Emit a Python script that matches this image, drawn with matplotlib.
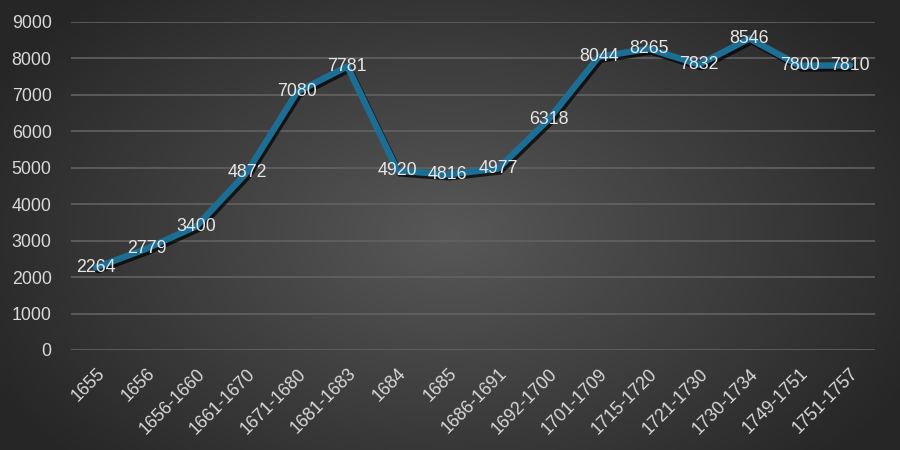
import numpy as np
import matplotlib
matplotlib.use("Agg")
import matplotlib.pyplot as plt
import matplotlib.patheffects as pe

categories = ["1655", "1656", "1656-1660", "1661-1670", "1671-1680", "1681-1683",
              "1684", "1685", "1686-1691", "1692-1700", "1701-1709", "1715-1720",
              "1721-1730", "1730-1734", "1749-1751", "1751-1757"]
values = [2264, 2779, 3400, 4872, 7080, 7781, 4920, 4816, 4977, 6318,
          8044, 8265, 7832, 8546, 7800, 7810]
yticks = [0, 1000, 2000, 3000, 4000, 5000, 6000, 7000, 8000, 9000]

plt.rcParams['font.family'] = ['Liberation Sans', 'DejaVu Sans']

fig = plt.figure(figsize=(9, 4.5), dpi=100)

# radial gradient background
bg = fig.add_axes([0, 0, 1, 1])
W, H = 900, 450
yy, xx = np.mgrid[0:H, 0:W]
r = np.sqrt(((xx - 450) / 520.0) ** 2 + ((yy - 235) / 330.0) ** 2)
r = np.clip(r, 0, 1)
c = 0x58 / 255 * (1 - r) + 0x26 / 255 * r
img = np.dstack([c, c, c])
bg.imshow(img, aspect='auto', extent=[0, 1, 0, 1], origin='upper')
bg.axis('off')
bg.set_zorder(-10)

ax = fig.add_axes([71 / 900, 100 / 450, (875 - 71) / 900, (350 - 22) / 450])
ax.set_facecolor('none')
x = np.arange(len(categories))
ax.plot(x, values, color='#1d6e94', lw=4.6, solid_joinstyle='round', solid_capstyle='round',
        path_effects=[pe.SimpleLineShadow(offset=(1.5, -2), shadow_color='black', alpha=0.7),
                      pe.Normal()], zorder=3)
for xi, v in zip(x, values):
    ax.text(xi, v, str(v), ha='center', va='center', color='#e6e6e6', fontsize=12.8, zorder=4)

ax.set_xlim(-0.5, len(categories) - 0.5)
ax.set_ylim(0, 9000)
ax.set_yticks(yticks)
ax.set_yticklabels([str(t) for t in yticks])
ax.set_xticks(x)
ax.set_xticklabels(categories, rotation=45, ha='right', rotation_mode='anchor')
ax.tick_params(axis='both', colors='#d9d9d9', labelsize=12.8, length=0)
ax.tick_params(axis='y', pad=14)
ax.tick_params(axis='x', pad=11)
ax.grid(axis='y', color='#626262', lw=1.2)
ax.set_axisbelow(True)
for s in ax.spines.values():
    s.set_visible(False)

fig.savefig('out.png', dpi=100)
